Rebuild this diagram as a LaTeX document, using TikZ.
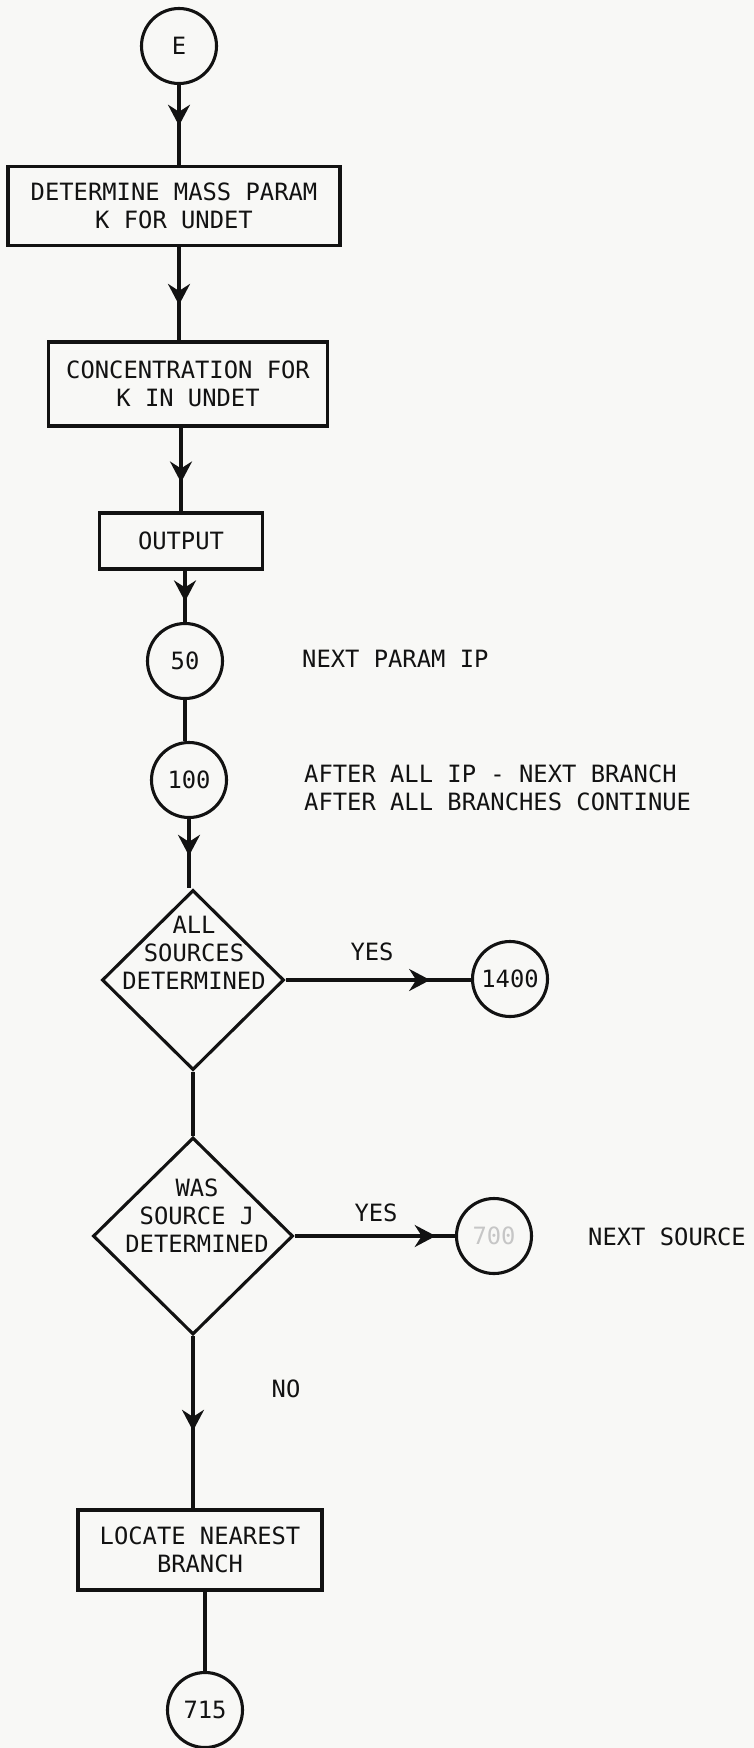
\documentclass[tikz,border=0pt]{standalone}
\usepackage{fontspec}
\newfontfamily\lettering{DejaVu Sans Mono}
\usetikzlibrary{shapes.geometric,arrows.meta,decorations.markings}
\definecolor{paper}{RGB}{248,248,246}
\definecolor{ink}{RGB}{18,18,18}
\begin{document}
\begin{tikzpicture}[x=1pt,y=-1pt,
  every node/.style={font=\lettering\fontsize{23.8}{28}\selectfont, text=ink, inner sep=0pt},
  line/.style={draw=ink, line width=3.1pt},
  circ/.style={circle, draw=ink, line width=3.1pt, minimum size=75pt},
  pbox/.style={rectangle, draw=ink, line width=3.3pt, align=center},
  dec/.style={diamond, draw=ink, line width=3.1pt},
  midarr/.style={postaction={decorate}, decoration={markings, mark=at position #1 with {\arrow{Stealth[length=21pt,width=22pt,inset=7pt]}}}},
]
\path[use as bounding box, fill=paper] (0,0) rectangle (754,1748);

% nodes
\node[circ] (E) at (179,46) {E};
\node[pbox, minimum width=332pt, minimum height=79pt] (b1) at (174,206) {DETERMINE MASS PARAM\\K FOR UNDET};
\node[pbox, minimum width=279pt, minimum height=84pt] (b2) at (188,384) {CONCENTRATION FOR\\K IN UNDET};
\node[pbox, minimum width=163pt, minimum height=56pt] (b3) at (181,541) {OUTPUT};
\node[circ] (c50) at (185,661) {50};
\node[circ] (c100) at (189,780) {100};
\node[anchor=west] (t50) at (302,659) {NEXT PARAM IP};
\node[anchor=west, align=left] (t100) at (304,788) {AFTER ALL IP - NEXT BRANCH\\AFTER ALL BRANCHES CONTINUE};
\node[dec, minimum width=182pt, minimum height=180pt] (d1) at (193,980) {};
\node[align=center] (d1t) at (194,953) {ALL\\SOURCES\\DETERMINED};
\node[circ] (c1400) at (510,979) {1400};
\node[dec, minimum width=200pt, minimum height=197pt] (d2) at (193,1236) {};
\node[align=center] (d2t) at (197,1216) {WAS\\SOURCE J\\DETERMINED};
\node[circ, text=gray!45] (c700) at (494,1236) {700};
\node[anchor=west] (tns) at (588,1237) {NEXT SOURCE};
\node (yes1) at (372,952) {YES};
\node (yes2) at (376,1213) {YES};
\node (no) at (286,1389) {NO};
\node[pbox, minimum width=244pt, minimum height=80pt] (b4) at (200,1550) {LOCATE NEAREST\\BRANCH};
\node[circ] (c715) at (205,1710) {715};

% connectors
\draw[line, midarr=0.51] (E) -- (E |- b1.north);
\draw[line, midarr=0.62] (b1.south -| E) -- (E |- b2.north);
\draw[line, midarr=0.655] (b2.south -| b3) -- (b3.north);
\draw[line, midarr=0.6] (b3.south -| c50) -- (c50);
\draw[line] (c50) -- (c50 |- c100.north);
\draw[line, midarr=0.53] (c100) -- (c100 |- d1.north);
\draw[line, midarr=0.78] (d1) -- (d1 -| c1400.west);
\draw[line] (d1.south) -- (d2.north);
\draw[line, midarr=0.88] (d2) -- (d2 -| c700.west);
\draw[line, midarr=0.55] (d2) -- (d2 |- b4.north);
\draw[line] (b4.south -| c715) -- (c715);
\end{tikzpicture}
\end{document}
